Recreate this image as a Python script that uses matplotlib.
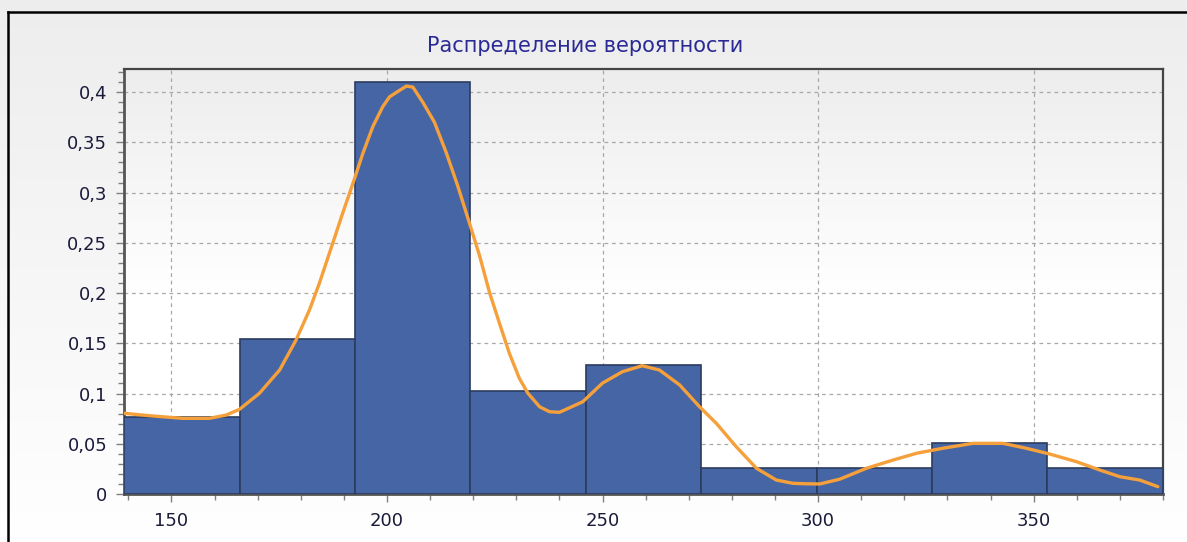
import numpy as np
import matplotlib.pyplot as plt
from matplotlib.ticker import MultipleLocator, FuncFormatter
from matplotlib.lines import Line2D

# histogram bins (probability per bin)
bin_edges = [139.0, 165.8, 192.6, 219.3, 246.1, 272.9, 299.7, 326.4, 353.2, 380.0]
probs = [0.077, 0.154, 0.410, 0.103, 0.128, 0.026, 0.026, 0.051, 0.026]

# density curve
curve_x = [139.1, 144.9, 152.6, 158.8, 162.7, 165.8, 170.4, 175.1, 178.9, 182.0,
           184.3, 187.4, 189.7, 192.1, 194.4, 196.7, 199.0, 200.6, 202.9, 204.5,
           206.0, 208.3, 211.0, 213.7, 216.4, 219.1, 221.5, 223.8, 226.1, 228.4,
           230.7, 232.7, 235.4, 237.7, 240.0, 245.4, 250.0, 254.6, 259.2, 263.2,
           267.9, 272.5, 276.4, 281.0, 285.7, 290.3, 294.2, 297.0, 300.4, 305.0,
           311.2, 317.4, 322.8, 328.9, 335.9, 342.9, 348.3, 353.7, 359.9, 365.3,
           370.0, 374.6, 378.8]
curve_y = [0.0803, 0.0779, 0.0753, 0.0753, 0.0786, 0.0843, 0.1002, 0.1234, 0.1532, 0.1830,
           0.2096, 0.2494, 0.2792, 0.3091, 0.3390, 0.3655, 0.3854, 0.3953, 0.4017, 0.4060,
           0.4050, 0.3900, 0.3701, 0.3403, 0.3068, 0.2700, 0.2368, 0.2003, 0.1698, 0.1399,
           0.1151, 0.1002, 0.0868, 0.0819, 0.0813, 0.0918, 0.1104, 0.1217, 0.1277, 0.1234,
           0.1085, 0.0868, 0.0703, 0.0471, 0.0256, 0.0139, 0.0106, 0.0102, 0.0100, 0.0147,
           0.0256, 0.0338, 0.0405, 0.0455, 0.0504, 0.0504, 0.0455, 0.0398, 0.0322, 0.0239,
           0.0172, 0.0139, 0.0073]

W, H = 1187, 542
fig = plt.figure(figsize=(W / 100, H / 100), dpi=100)

# background gradient over the whole figure
bg = fig.add_axes([0, 0, 1, 1], zorder=-10)
grad = np.linspace(0.93, 1.0, 256).reshape(-1, 1)
bg.imshow(np.dstack([grad, grad, grad]), aspect='auto', extent=[0, 1, 0, 1])
bg.set_xlim(0, 1)
bg.set_ylim(0, 1)
bg.axis('off')
# outer frame (left and top edges only visible)
fig.add_artist(Line2D([8 / W, 8 / W], [0, 1 - 12 / H], color='black', lw=1.8, transform=fig.transFigure))
fig.add_artist(Line2D([8 / W, 1], [1 - 12 / H, 1 - 12 / H], color='black', lw=1.8, transform=fig.transFigure))

ax = fig.add_axes([124 / W, 48 / H, (1163 - 124) / W, (494 - 69) / H])
ag = np.concatenate([np.ones(120), np.linspace(1.0, 0.93, 136)]).reshape(-1, 1)
ax.imshow(np.dstack([ag, ag, ag]), aspect='auto', extent=[139, 380, 0, 0.423], zorder=0, origin='lower')

widths = np.diff(bin_edges)
ax.bar(bin_edges[:-1], probs, width=widths, align='edge', color='#4565a5',
       edgecolor='#2b3c5e', linewidth=1.2, zorder=3)
ax.plot(curve_x, curve_y, color='#f5a03a', lw=2.4, zorder=4,
        solid_joinstyle='round', solid_capstyle='round')

ax.set_xlim(139, 380)
ax.set_ylim(0, 0.423)
ax.xaxis.set_major_locator(MultipleLocator(50))
ax.xaxis.set_minor_locator(MultipleLocator(10))
ax.yaxis.set_major_locator(MultipleLocator(0.05))
ax.yaxis.set_minor_locator(MultipleLocator(0.01))
ax.yaxis.set_major_formatter(FuncFormatter(lambda v, p: ('%g' % round(v, 2)).replace('.', ',')))
ax.grid(True, which='major', color='#a8a8a8', linestyle=(0, (3, 3)), linewidth=0.9, zorder=1)
ax.set_axisbelow(True)

ax.tick_params(which='both', direction='out', color='#808080', labelsize=13, labelcolor='#1a1a3a')
ax.tick_params(which='major', length=6, width=1)
ax.tick_params(which='minor', length=4, width=1)
ax.tick_params(axis='y', pad=6)
ax.tick_params(axis='x', pad=7)
for s in ['left', 'bottom']:
    ax.spines[s].set_color('#555555')
    ax.spines[s].set_linewidth(2)
for s in ['top', 'right']:
    ax.spines[s].set_color('#444444')
    ax.spines[s].set_linewidth(1.6)

fig.text(585 / W, 1 - 46 / H, 'Распределение вероятности', ha='center', va='center',
         fontsize=15, color='#2a2a96')

fig.savefig('out.png', dpi=100)
